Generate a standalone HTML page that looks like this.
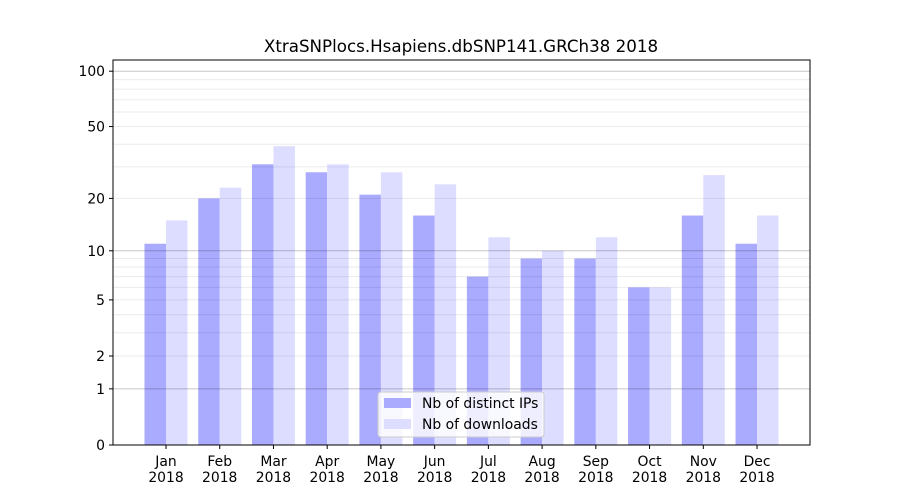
<!DOCTYPE html>
<html><head><meta charset="utf-8"><style>
body{margin:0;background:#fff;font-family:"DejaVu Sans","Liberation Sans",sans-serif;}
</style></head><body>
<svg id="chart" width="900" height="500" xmlns="http://www.w3.org/2000/svg" font-family="DejaVu Sans, Liberation Sans, sans-serif">
<rect width="900" height="500" fill="#fff"/>
<text x="461" y="52" font-size="16.7" text-anchor="middle">XtraSNPlocs.Hsapiens.dbSNP141.GRCh38 2018</text>
<g id="bars"></g><g id="grid"></g><g id="axes"></g>
</svg>
<script>
const months=["Jan","Feb","Mar","Apr","May","Jun","Jul","Aug","Sep","Oct","Nov","Dec"];
const distinctIPs=[11,20,31,28,21,16,7,9,9,6,16,11];
const downloads=[15,23,39,31,28,24,12,10,12,6,27,16];
const yTicks=[0,1,2,5,10,20,50,100];
const NS="http://www.w3.org/2000/svg";
const L=113,R=810,T=60,B=445;
function y(v){return B-186.5*Math.log10(v+1);}
function xc(i){return 166+i*53.73;}
function mk(tag,attrs,parent,text){const e=document.createElementNS(NS,tag);for(const k in attrs)e.setAttribute(k,attrs[k]);if(text!==undefined)e.textContent=text;parent.appendChild(e);return e;}
const grid=document.getElementById('grid'),bars=document.getElementById('bars'),axes=document.getElementById('axes');
[2,3,4,5,6,7,8,9,20,30,40,50,60,70,80,90].forEach(v=>{const l=mk('line',{x1:L,x2:R,y1:y(v),y2:y(v),stroke:'#000','stroke-opacity':0.08,'stroke-width':1},grid);

});
[1,10,100].forEach(v=>{const l=mk('line',{x1:L,x2:R,y1:y(v),y2:y(v),stroke:'#000','stroke-opacity':0.22,'stroke-width':1},grid);

});
const w=21.5;
months.forEach((m,i)=>{
 const a=mk('rect',{x:xc(i)-w,y:y(distinctIPs[i]),width:w,height:B-y(distinctIPs[i]),fill:'#aaaaff'},bars);
 
 
 const b=mk('rect',{x:xc(i),y:y(downloads[i]),width:w,height:B-y(downloads[i]),fill:'#ddddff'},bars);
 
 
 mk('line',{x1:xc(i),x2:xc(i),y1:B,y2:B+4,stroke:'#000'},axes);
 const t1=mk('text',{x:xc(i),y:B+21,'font-size':13.9,'text-anchor':'middle'},axes,m);
 
 
 const t2=mk('text',{x:xc(i),y:B+37,'font-size':13.9,'text-anchor':'middle'},axes,'2018');
 
 
});
yTicks.forEach(v=>{mk('line',{x1:L-4,x2:L,y1:y(v),y2:y(v),stroke:'#000'},axes);
 const t=mk('text',{x:L-8,y:y(v)+5,'font-size':13.9,'text-anchor':'end'},axes,String(v));
 
 });
const f=mk('rect',{x:L,y:T,width:R-L,height:B-T,fill:'none',stroke:'#000','stroke-width':1},axes);


const lg=mk('g',{},axes);


mk('rect',{x:378,y:392,width:166,height:45,rx:3,fill:'#fff','fill-opacity':0.8,stroke:'#ccc'},lg);
mk('rect',{x:384,y:398,width:27,height:10,fill:'#aaaaff'},lg);
mk('text',{x:422,y:408,'font-size':13.9},lg,'Nb of distinct IPs');
mk('rect',{x:384,y:419,width:27,height:10,fill:'#ddddff'},lg);
mk('text',{x:422,y:429,'font-size':13.9},lg,'Nb of downloads');
</script>
</body></html>
